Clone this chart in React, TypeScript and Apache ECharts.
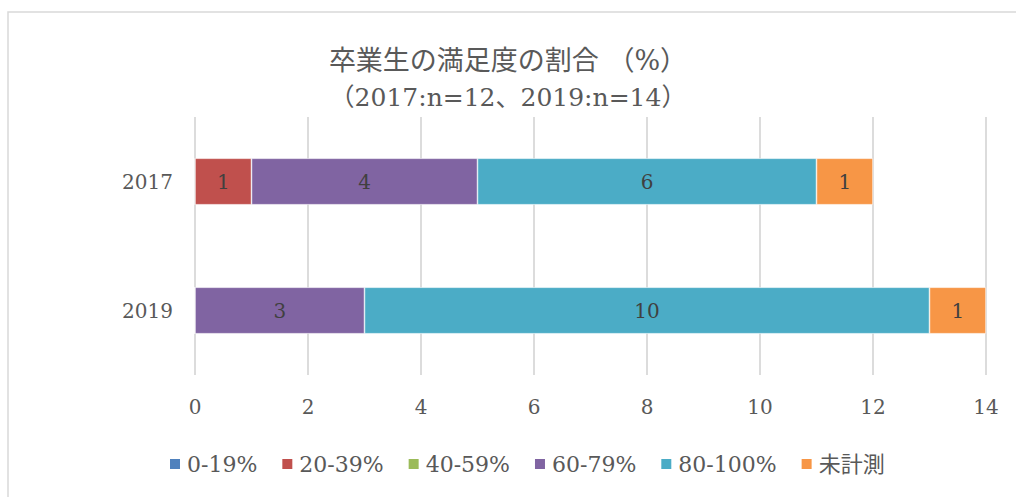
import React, { useEffect, useRef } from "react";
import * as echarts from "echarts";

const categories = ["2019", "2017"];
const seriesNames = ["0-19%", "20-39%", "40-59%", "60-79%", "80-100%", "未計測"];
const colors = ["#4F81BD", "#C0504D", "#9BBB59", "#8064A2", "#4BACC6", "#F79646"];
// values for [2019, 2017]
const v0to19 = [0, 0];
const v20to39 = [0, 1];
const v40to59 = [0, 0];
const v60to79 = [3, 4];
const v80to100 = [10, 6];
const vUnmeasured = [1, 1];
const xTicks = { min: 0, max: 14, interval: 2 };
const titleLine1 = "卒業生の満足度の割合 （%）";
const titleLine2 = "（2017:n=12、2019:n=14）";

const seriesValues = [v0to19, v20to39, v40to59, v60to79, v80to100, vUnmeasured];
const FONT = "'DejaVu Serif', 'Noto Sans CJK JP', serif";
const TXT = "#595959";

export default function App() {
  const ref = useRef<HTMLDivElement>(null);
  useEffect(() => {
    if (!ref.current) return;
    const chart = echarts.init(ref.current, undefined, { renderer: "svg" });
    chart.setOption({
      animation: false,
      textStyle: { fontFamily: FONT },
      title: {
        text: `{a|${titleLine1}}\n{b|${titleLine2}}`,
        left: "center",
        top: 36,
        textStyle: {
          fontWeight: "normal",
          rich: {
            a: { fontFamily: FONT, fontSize: 27, fontWeight: "normal", color: TXT, lineHeight: 38, align: "center" },
            b: { fontFamily: FONT, fontSize: 25, fontWeight: "normal", color: TXT, lineHeight: 36, align: "center" },
          },
        },
      },
      graphic: [
        {
          type: "rect",
          shape: { x: 8, y: 12, width: 1030, height: 500 },
          style: { fill: "none", stroke: "#d9d9d9", lineWidth: 1.5 },
          silent: true,
          z: -1,
        },
      ],
      legend: {
        bottom: 17,
        left: 163,
        itemWidth: 12,
        itemHeight: 12,
        itemGap: 23,
        icon: "rect",
        textStyle: { fontFamily: FONT, fontSize: 22, color: TXT, padding: [0, 0, 0, 1] },
        data: seriesNames,
      },
      grid: { left: 195, right: 30, top: 117, bottom: 122 },
      xAxis: {
        type: "value",
        min: xTicks.min,
        max: xTicks.max,
        interval: xTicks.interval,
        axisLine: { show: false },
        axisTick: { show: false },
        axisLabel: { fontFamily: FONT, fontSize: 20, color: TXT, margin: 22 },
        splitLine: { lineStyle: { color: "#d9d9d9", width: 1.8 } },
      },
      yAxis: {
        type: "category",
        data: categories,
        axisLine: { show: false },
        axisTick: { show: false },
        axisLabel: { fontFamily: FONT, fontSize: 20, color: TXT, margin: 22 },
      },
      series: seriesNames.map((name, i) => ({
        name,
        type: "bar",
        stack: "total",
        barWidth: "36%",
        data: seriesValues[i],
        itemStyle: { color: colors[i], borderColor: "#ffffff", borderWidth: 0.6 },
        label: {
          show: true,
          position: "inside",
          fontFamily: FONT,
          fontSize: 20,
          color: "#404040",
          formatter: (p: any) => (p.value ? String(p.value) : ""),
        },
      })),
    });
    return () => chart.dispose();
  }, []);
  return (
    <div
      ref={ref}
      style={{ position: "absolute", left: 0, top: 0, width: 1016, height: 497 }}
    />
  );
}
